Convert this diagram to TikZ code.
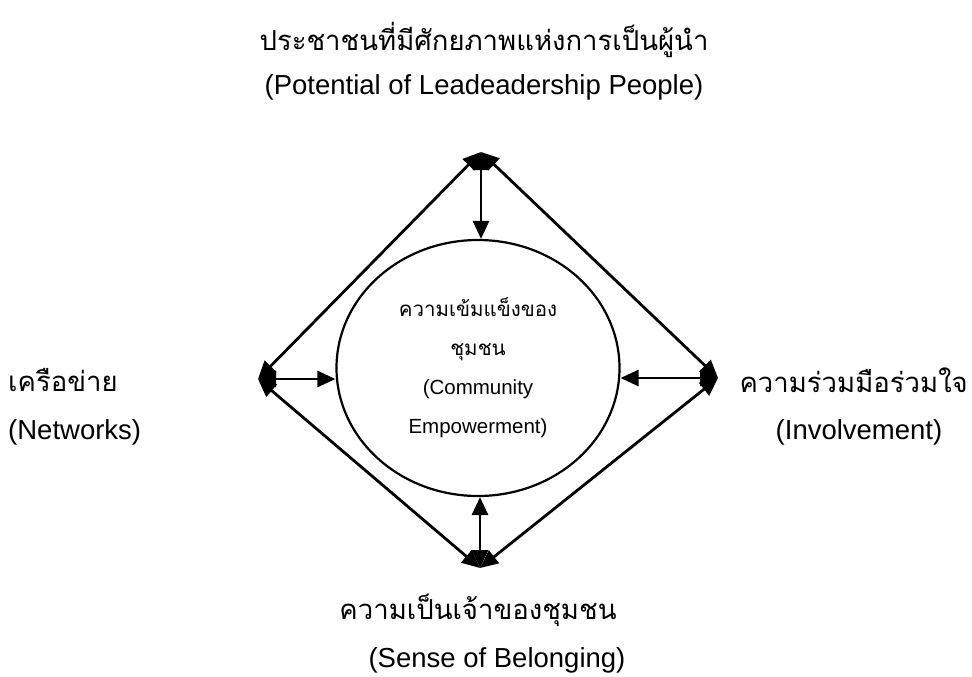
\documentclass[tikz,border=0pt]{standalone}
\usepackage{fontspec}
\setmainfont{Liberation Sans}
\newfontfamily\thaifont[Script=Thai]{Loma}
\usetikzlibrary{arrows.meta,shapes.geometric}
\tikzset{
  thlabel/.style={inner sep=0pt, font=\thaifont\fontsize{27.5}{30}\selectfont},
  enlabel/.style={inner sep=0pt, font=\fontsize{27.5}{30}\selectfont},
  link/.style={line width=2.8pt, {Triangle[length=18pt,width=16pt]}-{Triangle[length=18pt,width=16pt]}},
  core/.style={ellipse, draw, line width=2.2pt, minimum width=283pt, minimum height=256pt, inner sep=0pt, align=center,
    font=\fontsize{20.5}{39}\selectfont}
}
\begin{document}
\begin{tikzpicture}[x=1pt,y=-1pt]
\useasboundingbox (0,0) rectangle (972,677);
% diamond corners
\coordinate (T) at (481,152);
\coordinate (L) at (258,379);
\coordinate (R) at (718,378);
\coordinate (B) at (480,568);
% central ellipse
\node[core] (E) at (478,368) {{\thaifont ความเข้มแข็งของ}\\{\thaifont ชุมชน}\\(Community\\Empowerment)};
% labels
\node[thlabel] (topth) at (484,40) {ประชาชนที่มีศักยภาพแห่งการเป็นผู้นำ};
\node[enlabel] (topen) at (484,87) {(Potential of Leadeadership People)};
\node[thlabel, anchor=west] (leftth) at (8,380) {เครือข่าย};
\node[enlabel, anchor=west] (leften) at (8,432) {(Networks)};
\node[thlabel, anchor=east] (rightth) at (968,380) {ความร่วมมือร่วมใจ};
\node[enlabel] (righten) at (859,432) {(Involvement)};
\node[thlabel] (botth) at (478,610) {ความเป็นเจ้าของชุมชน};
\node[enlabel] (boten) at (497,660) {(Sense of Belonging)};
% connectors
\draw[link] (T) -- (L);
\draw[link] (T) -- (R);
\draw[link] (L) -- (B);
\draw[link] (R) -- (B);
\draw[link] (T) -- (T |- E.north);
\draw[link] (B) -- (B |- E.south);
\draw[link] (L) -- (L -| E.west);
\draw[link] (R) -- (R -| E.east);
\end{tikzpicture}
\end{document}
